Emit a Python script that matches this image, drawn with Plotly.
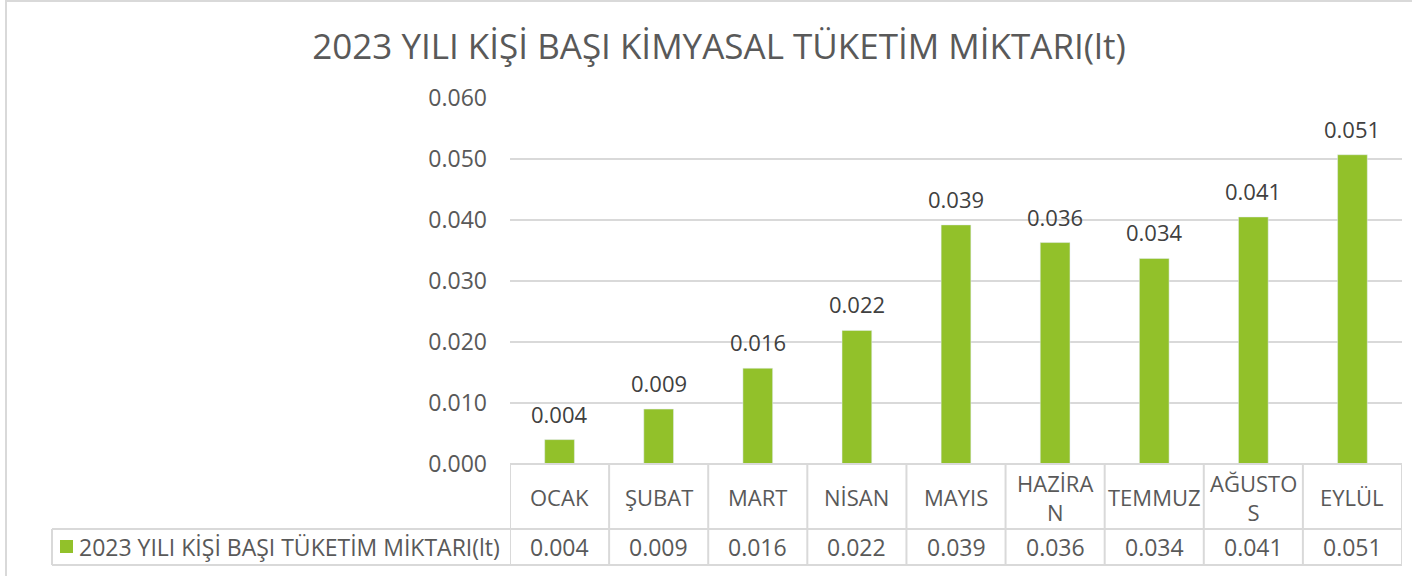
import plotly.graph_objects as go

categories = ["OCAK", "ŞUBAT", "MART", "NİSAN", "MAYIS", "HAZİRAN", "TEMMUZ", "AĞUSTOS", "EYLÜL"]
category_labels = ["OCAK", "ŞUBAT", "MART", "NİSAN", "MAYIS", "HAZİRA<br>N", "TEMMUZ", "AĞUSTO<br>S", "EYLÜL"]
values = [0.0040, 0.0090, 0.0157, 0.0219, 0.0392, 0.0363, 0.0337, 0.0405, 0.0507]
series_name = "2023 YILI KİŞİ BAŞI TÜKETİM MİKTARI(lt)"
title_text = "2023 YILI KİŞİ BAŞI KİMYASAL TÜKETİM MİKTARI(lt)"
tick_vals = [0, 0.01, 0.02, 0.03, 0.04, 0.05, 0.06]
tick_text = ["0.000", "0.010", "0.020", "0.030", "0.040", "0.050", "0.060"]

W, H = 1412, 576
L, R, T, B = 510, 10, 98, 112
pw, ph = W - L - R, H - T - B
FONT = "Open Sans"
TXT = "#595959"
GREEN = "#92C12A"
LINE = "#D9D9D9"


def px(x):
    return (x - L) / pw


def py(y):
    return (H - B - y) / ph


fig = go.Figure(go.Bar(
    x=categories, y=values, name=series_name,
    marker_color=GREEN, width=0.3,
    cliponaxis=False,
))

shapes = []
# outer chart border
shapes.append(dict(type="rect", xref="paper", yref="paper",
                   x0=px(6), x1=px(1420), y0=py(1), y1=py(600),
                   line=dict(color=LINE, width=2), layer="below"))
# table horizontal lines
y_top, y_mid, y_bot = 464, 529, 565
shapes.append(dict(type="line", xref="paper", yref="paper", x0=px(510), x1=1, y0=py(y_top), y1=py(y_top),
                   line=dict(color=LINE, width=2)))
shapes.append(dict(type="line", xref="paper", yref="paper", x0=px(52), x1=1, y0=py(y_mid), y1=py(y_mid),
                   line=dict(color=LINE, width=2)))
shapes.append(dict(type="line", xref="paper", yref="paper", x0=px(52), x1=1, y0=py(y_bot), y1=py(y_bot),
                   line=dict(color=LINE, width=2)))
# legend cell left edge
shapes.append(dict(type="line", xref="paper", yref="paper", x0=px(52), x1=px(52), y0=py(y_mid), y1=py(y_bot),
                   line=dict(color=LINE, width=2)))
# vertical separators
for i in range(len(categories) + 1):
    shapes.append(dict(type="line", xref="x", yref="paper", x0=i - 0.5, x1=i - 0.5,
                       y0=py(y_top), y1=py(y_bot), line=dict(color=LINE, width=2)))
# legend swatch
shapes.append(dict(type="rect", xref="paper", yref="paper", x0=px(60), x1=px(73), y0=py(540), y1=py(553),
                   fillcolor=GREEN, line=dict(width=0)))

annotations = []
for i, lab in enumerate(category_labels):
    # data label above bar
    annotations.append(dict(x=categories[i], y=values[i], xref="x", yref="y", text=f"{values[i]:.3f}",
                            showarrow=False, yanchor="bottom", xanchor="center", yshift=9,
                            font=dict(size=22, color="#404040", family=FONT)))
    annotations.append(dict(x=i, y=py(497), xref="x", yref="paper", text=lab, showarrow=False,
                            font=dict(size=22, color=TXT, family=FONT), xanchor="center", yanchor="middle"))
    annotations.append(dict(x=i, y=py(547), xref="x", yref="paper", text=f"{values[i]:.3f}", showarrow=False,
                            font=dict(size=23, color=TXT, family=FONT), xanchor="center", yanchor="middle"))
annotations.append(dict(x=px(77), y=py(547), xref="paper", yref="paper", text=series_name, showarrow=False,
                        font=dict(size=23, color=TXT, family=FONT), xanchor="left", yanchor="middle"))

fig.update_layout(
    width=W, height=H,
    margin=dict(l=L, r=R, t=T, b=B),
    paper_bgcolor="white", plot_bgcolor="white",
    showlegend=False,
    title=dict(text=title_text, x=719 / W, xanchor="center", y=1 - 47 / H, yanchor="middle",
               xref="container", yref="container",
               font=dict(size=35, color=TXT, family=FONT)),
    xaxis=dict(showticklabels=False, showgrid=False, zeroline=False, showline=False, ticks="",
               range=[-0.5, len(categories) - 0.5]),
    yaxis=dict(range=[0, 0.06], tickvals=tick_vals, ticktext=tick_text, showgrid=True,
               gridcolor=LINE, gridwidth=2, zeroline=False, showline=False, ticks="",
               tickfont=dict(size=23, color=TXT, family=FONT), ticklabelstandoff=22),
    shapes=shapes, annotations=annotations,
    font=dict(family=FONT, color=TXT),
)

fig.write_html("out.html", config={"displayModeBar": False},
               post_script="document.body.style.margin='0';")
